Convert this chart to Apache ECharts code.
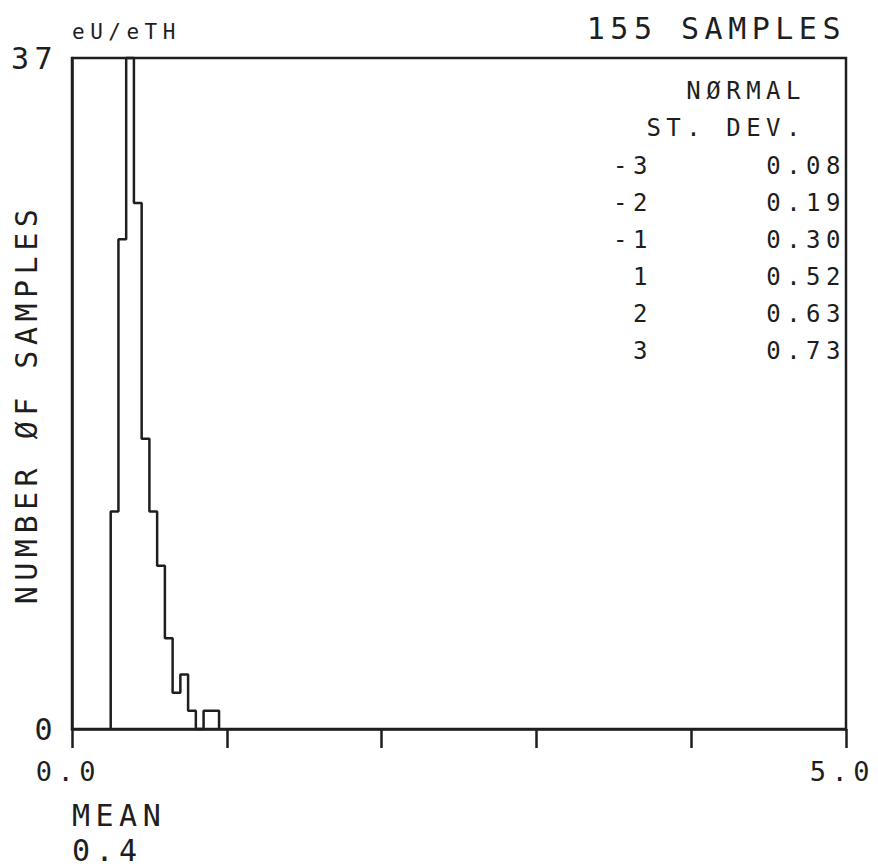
<!DOCTYPE html>
<html>
<head>
<meta charset="utf-8">
<script src="https://cdn.jsdelivr.net/npm/echarts@6.0.0/dist/echarts.min.js"></script>
<style>
  html, body { margin: 0; padding: 0; background: #fff; }
  /* plotter lettering is widely spaced; svg text inherits this */
  #chart { width: 878px; height: 867px; letter-spacing: 5.5px; }
</style>
</head>
<body>
<div id="chart"></div>
<script>
// histogram of eU/eTH, 155 samples, bin width 0.05
const binEdges = [0.25, 0.30, 0.35, 0.40, 0.45, 0.50, 0.55, 0.60, 0.65, 0.70, 0.75, 0.80, 0.85, 0.90, 0.95]
const counts = [12, 27, 37, 29, 16, 12, 9, 5, 2, 3, 1, 0, 1, 1]

const xTicks = [0, 1, 2, 3, 4, 5]
const xLabelAt = [0, 5]
const yMax = 37

const sdLevels = ['-3', '-2', '-1', '1', '2', '3']
const sdValues = ['0.08', '0.19', '0.30', '0.52', '0.63', '0.73']
const sampleCount = 155
const meanValue = '0.4'

const ink = '#1e1e1e'
const mono = '"DejaVu Sans Mono", monospace'

// step outline of the histogram
const outline = [[binEdges[0], 0]]
counts.forEach(function(c, i) {
  outline.push([binEdges[i], c])
  outline.push([binEdges[i + 1], c])
})
outline.push([binEdges[binEdges.length - 1], 0])

function txt(text, x, y, size, align, vAlign, extra) {
  const el = {
    type: 'text',
    x: x,
    y: y,
    silent: true,
    style: {
      text: text,
      font: size + 'px ' + mono,
      fill: ink,
      textAlign: align,
      align: align,
      textVerticalAlign: vAlign,
      verticalAlign: vAlign
    }
  }
  return Object.assign(el, extra || {})
}

const graphics = [
  txt('eU/eTH', 72, 32, 21, 'left', 'middle'),
  txt(sampleCount + ' SAMPLES', 846, 28, 30, 'right', 'middle'),
  txt('NØRMAL', 806, 91, 24, 'right', 'middle'),
  txt('ST. DEV.', 806, 128, 24, 'right', 'middle'),
  txt('NUMBER ØF SAMPLES', 26, 404, 30, 'center', 'middle', { rotation: Math.PI / 2 }),
  txt('MEAN', 72, 815, 30, 'left', 'middle'),
  txt(meanValue, 72, 850, 30, 'left', 'middle')
]
sdLevels.forEach(function(lv, i) {
  const y = 166 + i * 37
  graphics.push(txt(lv, 653, y, 24, 'right', 'middle'))
  graphics.push(txt(sdValues[i], 846, y, 24, 'right', 'middle'))
})

const chart = echarts.init(document.getElementById('chart'), null, { renderer: 'svg' })
chart.setOption({
  backgroundColor: '#fff',
  animation: false,
  grid: {
    left: 72,
    right: 32,
    top: 58,
    bottom: 138,
    show: true,
    borderColor: ink,
    borderWidth: 2.5,
    backgroundColor: 'transparent'
  },
  xAxis: {
    type: 'value',
    min: xTicks[0],
    max: xTicks[xTicks.length - 1],
    interval: 1,
    axisLine: { lineStyle: { color: ink, width: 2.5 } },
    axisTick: { inside: false, length: 19, lineStyle: { color: ink, width: 2.5 } },
    splitLine: { show: false },
    axisLabel: {
      margin: 29,
      color: ink,
      fontFamily: mono,
      fontSize: 27,
      padding: [0, 7, 0, 0],
      showMinLabel: true,
      showMaxLabel: true,
      formatter: function(v) {
        return xLabelAt.indexOf(v) >= 0 ? v.toFixed(1) : ''
      }
    }
  },
  yAxis: {
    type: 'value',
    min: 0,
    max: yMax,
    interval: yMax,
    axisLine: { show: true, lineStyle: { color: ink, width: 2.5 } },
    axisTick: { show: false },
    splitLine: { show: false },
    axisLabel: {
      margin: 14,
      color: ink,
      fontFamily: mono,
      fontSize: 30
    }
  },
  graphic: graphics,
  series: [{
    type: 'line',
    data: outline,
    showSymbol: false,
    symbol: 'none',
    lineStyle: { color: ink, width: 2.5 },
    clip: false
  }]
})
</script>
</body>
</html>
